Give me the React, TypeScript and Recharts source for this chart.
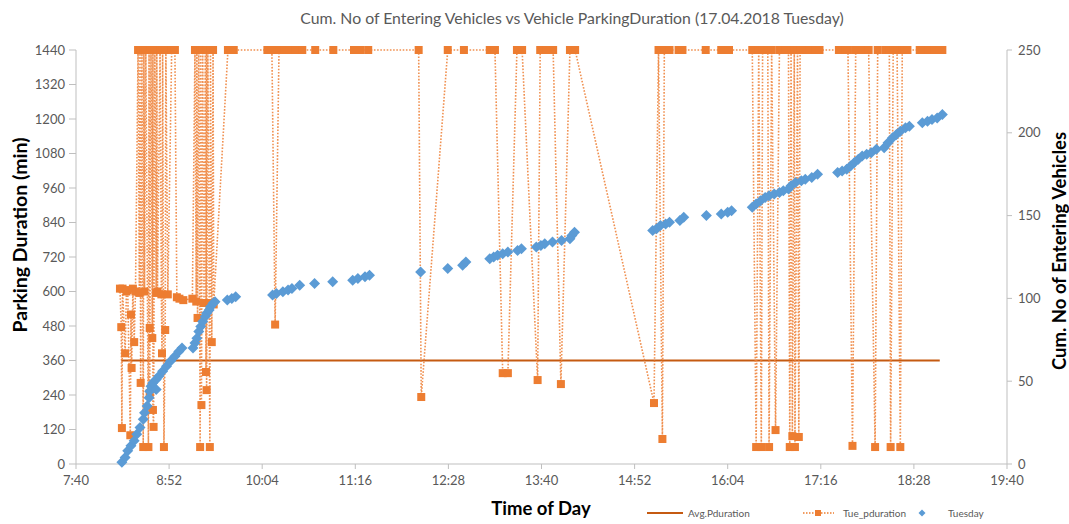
import React from 'react';
import { ComposedChart, Scatter, XAxis, YAxis } from 'recharts';

// time of day in minutes after midnight
const xTicks = [460, 532, 604, 676, 748, 820, 892, 964, 1036, 1108, 1180];
const leftTicks = [0, 120, 240, 360, 480, 600, 720, 840, 960, 1080, 1200, 1320, 1440];
const rightTicks = [0, 50, 100, 150, 200, 250];

// Avg.Pduration
const avgTime = [495, 1128];
const avgValue = [360, 360];

// Tue_pduration (parking duration of each entering vehicle, capped at 1440)
const pdTime = [
  494, 495, 495.5, 496, 498, 499, 500, 502, 502.5, 503, 504, 505, 506, 508, 509, 509.5, 510, 511, 512, 512.5,
  513, 514, 516, 516.5, 517, 517, 518, 519, 519.5, 519.5, 520, 521, 522, 522.5, 523, 525, 526, 526.5, 527, 528,
  529, 529.5, 531, 534, 536.5, 538, 540, 543,
  550, 552, 553, 553.5, 554, 555, 556, 556.5, 557, 558, 559, 560, 560.5, 561, 561, 562, 563, 563.5, 564, 565,
  566, 566.5, 577.5, 582, 608, 611.5, 614, 617, 621, 625, 630, 635, 645, 659, 675, 680, 686, 725, 727, 747.5,
  760, 780, 784, 790, 794, 801, 805, 817, 819, 824, 829, 835, 842, 846, 907, 910.5, 913.5, 915, 919, 926,
  929, 947, 959, 965,
  983, 986, 988, 990, 991, 995, 996, 998, 1001, 1004, 1005.5, 1009, 1011, 1012, 1013, 1014, 1015.5, 1016, 1018, 1019,
  1020, 1023, 1027, 1032, 1035, 1050, 1055, 1057, 1060.5, 1063, 1068, 1073, 1078, 1080, 1086, 1089, 1090, 1092, 1095, 1097.5,
  1099, 1101, 1103, 1112.5, 1115, 1119, 1124, 1128, 1130,
];
const pdValue = [
  610, 476, 125, 610, 385, 600, 605, 100, 520, 334, 610, 424, 600, 1440, 595, 1440, 282, 1440, 59, 1440,
  600, 1440, 59, 1440, 473, 247, 1440, 438, 1440, 188, 129, 1440, 595, 1440, 600, 1440, 590, 385, 1440, 59,
  466, 1440, 590, 1440, 1440, 580, 575, 570,
  575, 1440, 565, 1440, 508, 1440, 59, 1440, 205, 1440, 560, 1440, 320, 1440, 257, 1440, 560, 59, 1440, 424,
  1440, 555, 1440, 1440, 1440, 1440, 485, 1440, 1440, 1440, 1440, 1440, 1440, 1440, 1440, 1440, 1440, 1440, 233, 1440,
  1440, 1440, 1440, 316, 316, 1440, 1440, 292, 1440, 1440, 1440, 278, 1440, 1440, 212, 1440, 87, 1440, 1440, 1440,
  1440, 1440, 1440, 1440,
  1440, 59, 1440, 59, 1440, 1440, 59, 1440, 118, 1440, 1440, 1440, 1440, 59, 1440, 97, 1440, 59, 1440, 94,
  1440, 1440, 1440, 1440, 1440, 1440, 1440, 1440, 63, 1440, 1440, 1440, 59, 1440, 1440, 1440, 59, 1440, 1440, 59,
  1440, 1440, 1440, 1440, 1440, 1440, 1440, 1440, 1440,
];

// Tuesday: cumulative number of entering vehicles
const tueTime = [
  495.5, 498, 500, 502.5, 505, 507, 509.5, 512, 513, 515, 516.5, 517, 518, 519.5, 522, 522, 524, 527, 530, 533,
  536.5, 539.5, 542,
  550.5, 552, 553.5, 555, 556.5, 558, 560, 561, 563, 564, 566, 567.5, 577, 580.5, 583.5,
  612, 615, 620, 624, 627, 633, 644.5, 658.5, 674, 678, 683.5, 687,
  726.5, 747.5, 759, 761.5, 780, 783, 786, 790, 794, 801.5, 804.5, 816, 819.5, 822.5, 828.5, 835.5, 842, 843.5, 845.5,
  906, 909, 912, 916, 919, 927, 930, 947.5, 959, 964, 967,
  983, 986, 989.5, 993, 996, 1000, 1004, 1007, 1011, 1013, 1016.5, 1021, 1024, 1029, 1033.5,
  1049, 1052.5, 1056, 1059, 1062, 1065, 1068, 1071.5, 1075, 1079, 1085, 1088, 1091.5, 1094.5, 1097.5, 1101.5, 1104.5,
  1114.5, 1118.5, 1122, 1126, 1130,
];
const tueCount = [
  1, 4, 8, 11, 14, 18, 22, 27, 31, 35, 40, 44, 47, 49, 45, 51, 53, 56, 59, 62,
  65, 68, 70,
  70, 73, 76, 80, 83, 86, 89, 91, 93, 95, 97, 98, 99, 100, 101,
  102, 103, 104, 105, 106, 108, 109, 110, 111, 112, 113, 114,
  116, 118, 120, 122, 124, 125, 126, 127, 128, 129, 130, 131, 132, 133, 134, 135, 136, 138, 140,
  141, 142, 144, 145, 146, 147, 149, 150, 151, 152, 153,
  155, 157, 159, 161, 162, 163, 164, 165, 166, 168, 170, 171, 172, 173, 175,
  176, 177, 178, 180, 182, 184, 186, 187, 188, 190, 191, 194, 197, 199, 201, 203, 204,
  206, 207, 208, 209, 211,
];

const avgData = avgTime.map((t, i) => ({ t, v: avgValue[i] }));
const pdData = pdTime.map((t, i) => ({ t, v: pdValue[i] }));
const tueData = tueTime.map((t, i) => ({ t, c: tueCount[i] }));

const ORANGE = '#ED7D31';
const DARK_ORANGE = '#C55A11';
const BLUE = '#5B9BD5';
const GREY = '#595959';
const AXIS = '#BFBFBF';
const FONT = 'Lato, "Open Sans", sans-serif';

const fmtTime = (m: number) => `${Math.floor(m / 60)}:${String(m % 60).padStart(2, '0')}`;

const Square = (props: any) => {
  const { cx, cy } = props;
  if (cx == null || cy == null) return <g />;
  return <rect x={cx - 4} y={cy - 4} width={8} height={8} fill={ORANGE} />;
};

const Diamond = (props: any) => {
  const { cx, cy } = props;
  if (cx == null || cy == null) return <g />;
  const r = 5.5;
  return <path d={`M${cx},${cy - r}L${cx + r},${cy}L${cx},${cy + r}L${cx - r},${cy}Z`} fill={BLUE} />;
};

const NoDot = () => <g />;

const App: React.FC = () => {
  const tickStyle = { fill: GREY, fontSize: 13, fontFamily: FONT };
  return (
    <div style={{ position: 'absolute', left: 0, top: 0, width: 1069, height: 524, background: '#fff' }}>
      <ComposedChart width={1069} height={524} margin={{ top: 50, right: 0, bottom: 0, left: 0 }}>
        <XAxis
          type="number"
          dataKey="t"
          domain={[460, 1180]}
          ticks={xTicks}
          tickFormatter={fmtTime}
          height={60}
          tick={tickStyle}
          tickSize={5}
          tickMargin={7}
          stroke={AXIS}
          allowDataOverflow
        />
        <YAxis
          yAxisId="left"
          type="number"
          dataKey="v"
          domain={[0, 1440]}
          ticks={leftTicks}
          width={76}
          tick={tickStyle}
          tickSize={7}
          tickMargin={4}
          stroke={AXIS}
        />
        <YAxis
          yAxisId="right"
          orientation="right"
          type="number"
          dataKey="c"
          domain={[0, 250]}
          ticks={rightTicks}
          width={62}
          tick={tickStyle}
          tickSize={5}
          tickMargin={6}
          stroke={AXIS}
        />
        <Scatter
          name="Avg.Pduration"
          yAxisId="left"
          data={avgData}
          line={{ stroke: DARK_ORANGE, strokeWidth: 2 }}
          lineType="joint"
          shape={NoDot}
          isAnimationActive={false}
        />
        <Scatter
          name="Tue_pduration"
          yAxisId="left"
          data={pdData}
          line={{ stroke: ORANGE, strokeWidth: 1.6, strokeDasharray: '1.6 1.6', strokeOpacity: 0.85 }}
          lineType="joint"
          shape={Square}
          isAnimationActive={false}
        />
        <Scatter
          name="Tuesday"
          yAxisId="right"
          data={tueData}
          shape={Diamond}
          isAnimationActive={false}
        />
      </ComposedChart>

      <svg
        width={1069}
        height={524}
        style={{ position: 'absolute', left: 0, top: 0, pointerEvents: 'none' }}
        fontFamily={FONT}
      >
        <text x={572} y={24} textAnchor="middle" fontSize={15.8} fill={GREY}>
          Cum. No of Entering Vehicles vs Vehicle ParkingDuration (17.04.2018 Tuesday)
        </text>
        <text
          transform="translate(19,235) rotate(-90)"
          textAnchor="middle"
          dominantBaseline="central"
          fontSize={19.5}
          fontWeight="bold"
          fill="#000"
        >
          Parking Duration (min)
        </text>
        <text
          transform="translate(1059,251) rotate(-90)"
          textAnchor="middle"
          dominantBaseline="central"
          fontSize={18.5}
          fontWeight="bold"
          fill="#000"
        >
          Cum. No of Entering Vehicles
        </text>
        <text x={541} y={515} textAnchor="middle" fontSize={18.5} fontWeight="bold" fill="#000">
          Time of Day
        </text>

        {/* legend */}
        <line x1={647} y1={513} x2={683} y2={513} stroke={DARK_ORANGE} strokeWidth={2} />
        <text x={688} y={513} dominantBaseline="central" fontSize={10} fill={GREY}>Avg.Pduration</text>
        <line x1={803} y1={513} x2={834} y2={513} stroke={ORANGE} strokeWidth={1.5} strokeDasharray="1.5 1.5" />
        <rect x={815} y={510} width={6} height={6} fill={ORANGE} />
        <text x={843} y={513} dominantBaseline="central" fontSize={10} fill={GREY}>Tue_pduration</text>
        <path d="M922,509.5L925.5,513L922,516.5L918.5,513Z" fill={BLUE} />
        <text x={948} y={513} dominantBaseline="central" fontSize={10} fill={GREY}>Tuesday</text>
      </svg>
    </div>
  );
};

export default App;
